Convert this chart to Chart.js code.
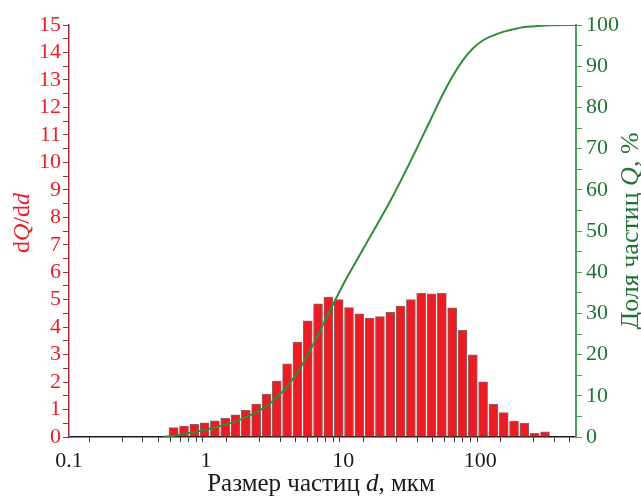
<!DOCTYPE html>
<html>
<head>
<meta charset="utf-8">
<script src="https://cdn.jsdelivr.net/npm/chart.js@4.4.1/dist/chart.umd.min.js"></script>
<style>
  html, body { margin: 0; padding: 0; background: #fff; }
  #wrap { width: 641px; height: 497px; position: relative; }
</style>
</head>
<body>
<div id="wrap"><canvas id="chart"></canvas></div>
<script>
// Histogram bins (centres, um) and dQ/dd heights
const binCenters = [0.58, 0.69, 0.82, 0.975, 1.16, 1.38, 1.64, 1.95, 2.32, 2.76,
  3.28, 3.9, 4.64, 5.52, 6.56, 7.8, 9.28, 11.04, 13.13, 15.61,
  18.56, 22.08, 26.25, 31.22, 37.13, 44.15, 52.51, 62.45, 74.26, 88.31,
  105, 124.9, 148.5, 176.6, 210, 249.8, 297.1];
const dQdd = [0.34, 0.40, 0.46, 0.52, 0.59, 0.68, 0.81, 0.97, 1.2, 1.55,
  2.04, 2.66, 3.46, 4.23, 4.85, 5.09, 5.0, 4.71, 4.48, 4.33,
  4.38, 4.54, 4.77, 5.0, 5.23, 5.21, 5.23, 4.70, 3.88, 2.99,
  2.01, 1.19, 0.89, 0.58, 0.50, 0.13, 0.19];

// Cumulative fraction Q (%)
const cumD = [0.49, 0.58, 0.69, 0.82, 0.975, 1.16, 1.38, 1.64, 1.95, 2.32, 2.76,
  3.28, 3.9, 4.64, 5.52, 6.56, 7.8, 9.28, 11.04, 13.13, 15.61,
  18.56, 22.08, 26.25, 31.22, 37.13, 44.15, 52.51, 62.45, 74.26, 88.31,
  105, 124.9, 148.5, 176.6, 210, 249.8, 297.1, 500];
const cumQ = [0, 0.3, 0.7, 1.2, 1.7, 2.3, 3.0, 3.8, 4.8, 6.0, 7.5,
  9.6, 12.2, 15.7, 19.9, 24.8, 29.9, 34.9, 39.6, 44.0, 48.4,
  52.8, 57.3, 62.1, 67.1, 72.3, 77.5, 82.7, 87.4, 91.3, 94.3,
  96.3, 97.5, 98.4, 99.0, 99.5, 99.7, 99.9, 100];

const xTickLabels = [0.1, 1, 10, 100];
const yLeftLabels = [0, 1, 2, 3, 4, 5, 6, 7, 8, 9, 10, 11, 12, 13, 14, 15];
const yRightLabels = [0, 10, 20, 30, 40, 50, 60, 70, 80, 90, 100];

const RED = '#e8202a';
const RED_AXIS = '#9e2f3a';
const GREEN = '#2e8d3a';
const GREEN_TXT = '#1f7431';
const GREEN_AXIS = '#4d9f5a';
const FONT = 'Liberation Serif';

// minor ticks on log axis
function logTicks() {
  const out = [];
  for (const dec of [0.1, 1, 10, 100]) {
    for (let k = 1; k <= 9; k++) {
      const v = +(dec * k).toPrecision(3);
      if (v <= 500) out.push({ value: v });
    }
  }
  return out;
}

function stepTicks(max, step) {
  const out = [];
  for (let v = 0; v <= max + 1e-9; v += step) out.push({ value: +v.toFixed(2) });
  return out;
}

// Axis titles with italic parts
function drawRich(ctx, parts, x, y, rot, color, size) {
  ctx.save();
  ctx.translate(x, y);
  ctx.rotate(rot);
  ctx.fillStyle = color;
  ctx.textBaseline = 'alphabetic';
  ctx.textAlign = 'left';
  let total = 0;
  const widths = parts.map(([t, it]) => {
    ctx.font = (it ? 'italic ' : '') + size + 'px "' + FONT + '"';
    const w = ctx.measureText(t).width;
    total += w;
    return w;
  });
  let cx = -total / 2;
  parts.forEach(([t, it], i) => {
    ctx.font = (it ? 'italic ' : '') + size + 'px "' + FONT + '"';
    ctx.fillText(t, cx, 0);
    cx += widths[i];
  });
  ctx.restore();
}

const titles = {
  id: 'titles',
  afterDraw(chart) {
    const ctx = chart.ctx;
    drawRich(ctx, [['d', false], ['Q', true], ['/d', false], ['d', true]], 29, 223, -Math.PI / 2, RED, 24);
    drawRich(ctx, [['Размер частиц ', false], ['d', true], [', мкм', false]], 321, 491, 0, '#1a1a1a', 25);
    drawRich(ctx, [['Доля частиц ', false], ['Q', true], [', %', false]], 638, 231, -Math.PI / 2, GREEN_TXT, 26);
  }
};

new Chart(document.getElementById('chart'), {
  type: 'bar',
  data: {
    datasets: [
      {
        type: 'line',
        data: cumD.map((d, i) => ({ x: d, y: cumQ[i] })),
        yAxisID: 'y2',
        borderColor: GREEN,
        borderWidth: 2,
        pointRadius: 0,
        cubicInterpolationMode: 'monotone',
        order: 0
      },
      {
        type: 'bar',
        data: binCenters.map((d, i) => ({ x: d, y: dQdd[i] })),
        yAxisID: 'y',
        backgroundColor: '#ec1c24',
        borderColor: 'rgba(125,70,70,0.85)',
        borderWidth: 1,
        barThickness: 9,
        order: 1
      }
    ]
  },
  options: {
    responsive: true,
    maintainAspectRatio: false,
    animation: false,
    layout: { padding: { top: 25, left: 0, right: 0, bottom: 0 } },
    plugins: { legend: { display: false }, tooltip: { enabled: false } },
    scales: {
      x: {
        type: 'logarithmic',
        position: 'bottom',
        min: 0.1,
        max: 500,
        afterBuildTicks: (s) => { s.ticks = logTicks(); },
        afterFit: (s) => { s.height = 60; },
        grid: { drawOnChartArea: false, tickLength: 5, tickColor: '#333' },
        border: { color: '#1a1a1a', width: 1.5 },
        ticks: {
          autoSkip: false,
          maxRotation: 0,
          padding: 6,
          color: '#1a1a1a',
          font: { family: FONT, size: 22 },
          callback: (v) => xTickLabels.includes(v) ? String(v) : ''
        }
      },
      y: {
        position: 'left',
        min: 0,
        max: 15,
        afterBuildTicks: (s) => { s.ticks = stepTicks(15, 0.5); },
        afterFit: (s) => { s.width = 69; },
        grid: { drawOnChartArea: false, tickLength: 6, tickColor: RED_AXIS },
        border: { color: RED_AXIS, width: 1.5 },
        ticks: {
          autoSkip: false,
          padding: 2,
          color: RED,
          font: { family: FONT, size: 22 },
          callback: (v) => yLeftLabels.includes(v) ? String(v) : ''
        }
      },
      y2: {
        position: 'right',
        min: 0,
        max: 100,
        afterBuildTicks: (s) => { s.ticks = stepTicks(100, 5); },
        afterFit: (s) => { s.width = 65; },
        grid: { drawOnChartArea: false, tickLength: 6, tickColor: GREEN_AXIS },
        border: { color: GREEN_AXIS, width: 2 },
        ticks: {
          autoSkip: false,
          padding: 4,
          color: GREEN_TXT,
          font: { family: FONT, size: 22 },
          callback: (v) => yRightLabels.includes(v) ? String(v) : ''
        }
      }
    }
  },
  plugins: [titles]
});
</script>
</body>
</html>
